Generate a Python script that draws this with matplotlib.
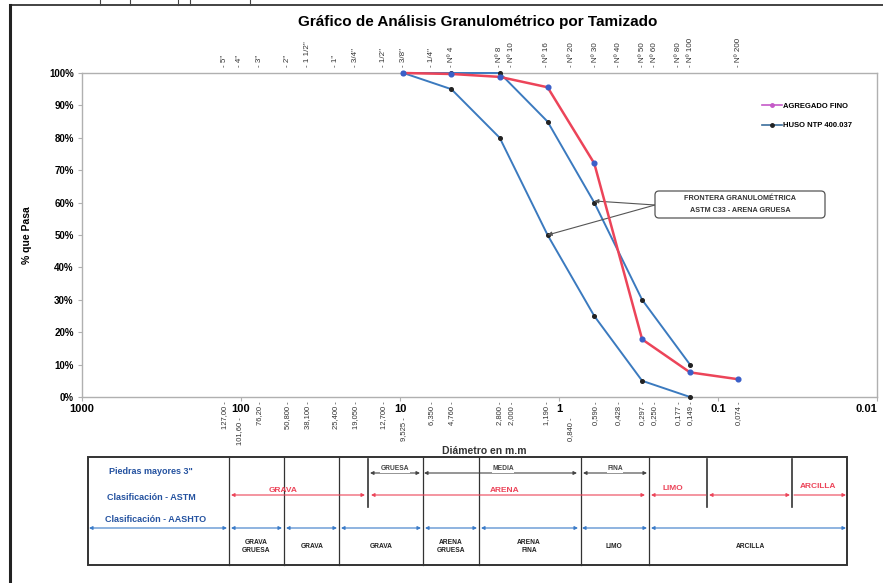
#!/usr/bin/env python3
"""
Grafico de analisis granulometrico por tamizado
Curva del agregado fino frente al huso NTP 400.037
"""

import matplotlib
matplotlib.use("Agg")
import matplotlib.pyplot as plt
from matplotlib import font_manager
from matplotlib.lines import Line2D
from matplotlib.patches import FancyBboxPatch

# ---- datos ----
sieve_mm = [9.525, 4.75, 2.36, 1.18, 0.60, 0.30, 0.15, 0.075]
agregado_fino = [100, 99.7, 98.8, 95.6, 72.1, 17.8, 7.6, 5.5]

huso_mm = [9.525, 4.75, 2.36, 1.18, 0.60, 0.30, 0.15]
huso_sup = [100, 100, 100, 85, 60, 30, 10]
huso_inf = [100, 95, 80, 50, 25, 5, 0]

top_mm = [127, 101.6, 76.2, 50.8, 38.1, 25.4, 19.05, 12.7, 9.525, 6.35, 4.76,
          2.38, 2.0, 1.19, 0.84, 0.59, 0.42, 0.297, 0.25, 0.177, 0.149, 0.074]
top_names = ['5"', '4"', '3"', '2"', '1 1/2"', '1"', '3/4"', '1/2"', '3/8"', '1/4"',
             'Nº 4', 'Nº 8', 'Nº 10', 'Nº 16', 'Nº 20', 'Nº 30', 'Nº 40', 'Nº 50',
             'Nº 60', 'Nº 80', 'Nº 100', 'Nº 200']
bottom_names = ['127,00', '101,60', '76,20', '50,800', '38,100', '25,400', '19,050',
                '12,700', '9,525', '6,350', '4,760', '2,800', '2,000', '1,190', '0,840',
                '0,590', '0,428', '0,297', '0,250', '0,177', '0,149', '0,074']
staggered = ['101,60', '9,525', '0,840']

major_ticks = [1000, 100, 10, 1, 0.1, 0.01]
major_labels = ['1000', '100', '10', '1', '0.1', '0.01']

# ---- fuentes ----
available = {f.name for f in font_manager.fontManager.ttflist}
narrow = 'Liberation Sans Narrow' if 'Liberation Sans Narrow' in available else 'Liberation Sans'
plt.rcParams['font.family'] = [narrow, 'DejaVu Sans']

W, H = 883, 583
fig = plt.figure(figsize=(W / 100, H / 100), dpi=100)


def fx(px):
    return px / W


def fy(py):
    return 1 - py / H


# ---- grafico principal ----
ax = fig.add_axes([fx(82), fy(397), fx(877) - fx(82), fy(73) - fy(397)])
ax.set_xscale('log')
ax.set_xlim(1000, 0.01)
ax.set_ylim(0, 100)

ax.plot(huso_mm, huso_sup, color='#3b7abf', lw=1.4, marker='o', ms=2.6,
        mfc='#222222', mec='#222222', clip_on=False, zorder=3)
ax.plot(huso_mm, huso_inf, color='#3b7abf', lw=1.4, marker='o', ms=2.6,
        mfc='#222222', mec='#222222', clip_on=False, zorder=3)
ax.plot(sieve_mm, agregado_fino, color='#ec4459', lw=1.8, marker='o', ms=3.4,
        mfc='#3a5fc8', mec='#3a5fc8', clip_on=False, zorder=4)

for s in ax.spines.values():
    s.set_color('#b0b0b0')
    s.set_linewidth(1.0)

ax.set_xticks(major_ticks)
ax.set_xticklabels(major_labels, fontsize=8, fontweight='bold')
ax.get_xticklabels()[-1].set_horizontalalignment('right')
ax.xaxis.set_minor_locator(matplotlib.ticker.NullLocator())
ax.tick_params(axis='x', length=3, color='#b0b0b0', pad=2)

ax.set_yticks(range(0, 101, 10))
ax.set_yticklabels([f'{v}%' for v in range(0, 101, 10)], fontsize=7, fontweight='bold')
ax.tick_params(axis='y', length=3, color='#b0b0b0', pad=3)
ax.set_ylabel('% que Pasa', fontsize=7.5, fontweight='bold', labelpad=12)

# nombres de tamices arriba
for mm, name in zip(top_mm, top_names):
    ax.text(mm, 1.02, '- ' + name, transform=ax.get_xaxis_transform(),
            rotation=90, ha='center', va='bottom', fontsize=5.8, color='#333333')

# aberturas en mm abajo
for mm, name in zip(top_mm, bottom_names):
    y = -0.062 if name in staggered else -0.014
    ax.text(mm, y, name + ' -', transform=ax.get_xaxis_transform(),
            rotation=90, ha='center', va='top', fontsize=5.5, color='#333333')

# leyenda
handles = [Line2D([], [], color='#c55ac8', lw=1.2, marker='o', ms=2.5),
           Line2D([], [], color='#3b6e9c', lw=1.2, marker='o', ms=2.5,
                  mfc='#222222', mec='#222222')]
leg = ax.legend(handles, ['AGREGADO FINO', 'HUSO NTP 400.037'],
                loc='upper left', bbox_to_anchor=(fx(755 - 82) / (fx(877) - fx(82)), 0.93),
                frameon=False, handlelength=2.6, handletextpad=0.2,
                labelspacing=1.6, prop={'size': 5.5, 'weight': 'bold'})

# flechas de la frontera granulometrica
for xy in [(0.60, 60.5), (1.18, 50)]:
    ax.annotate('', xy=xy, xycoords='data', xytext=(fx(655), fy(205)),
                textcoords='figure fraction',
                arrowprops=dict(arrowstyle='-|>', color='#555555', lw=0.8,
                                mutation_scale=6, shrinkA=0, shrinkB=0))

fig.text(fx(478), fy(22), 'Gráfico de Análisis Granulométrico por Tamizado',
         ha='center', va='center', fontsize=11, fontweight='bold')
fig.text(fx(484), fy(451), 'Diámetro en m.m', ha='center', va='center',
         fontsize=7.5, fontweight='bold', color='#333333')

# ---- capa en pixeles: recuadro y cuadro de clasificacion ----
ov = fig.add_axes([0, 0, 1, 1], zorder=5)
ov.set_xlim(0, W)
ov.set_ylim(H, 0)
ov.axis('off')

ov.add_patch(FancyBboxPatch((655, 191), 170, 27, boxstyle='round,pad=0,rounding_size=4',
                            fc='white', ec='#555555', lw=0.9))
ov.text(740, 199, 'FRONTERA GRANULOMÉTRICA', ha='center', va='center',
        fontsize=5.2, fontweight='bold', color='#333333')
ov.text(740, 210, 'ASTM C33 - ARENA GRUESA', ha='center', va='center',
        fontsize=5.2, fontweight='bold', color='#333333')

# marco del formato
ov.plot([10, 10], [5, H], color='#222222', lw=2.2)
ov.plot([10, W], [5, 5], color='#222222', lw=1.2)
for x in [100, 130, 178, 190, 250]:
    ov.plot([x, x], [0, 5], color='#444444', lw=0.8)

ov.add_patch(plt.Rectangle((88, 457), 847 - 88, 565 - 457, fill=False,
                           ec='#333333', lw=1.4))
for x in [229, 284, 339, 423, 479, 581, 649]:
    ov.plot([x, x], [457, 565], color='#333333', lw=0.9)
for x in [368, 707, 792]:
    ov.plot([x, x], [459, 507], color='#333333', lw=1.2)


def dim_arrow(x0, x1, y, color, style='<|-|>'):
    ov.annotate('', xy=(x1, y), xytext=(x0, y), xycoords='data',
                arrowprops=dict(arrowstyle=style, color=color, lw=0.8,
                                mutation_scale=5, shrinkA=0, shrinkB=0))


gray = '#444444'
red = '#ec4459'
blue = '#3a7bc8'

# fila 1: subdivisiones
dim_arrow(370, 420, 473, gray)
dim_arrow(424, 577, 473, gray)
dim_arrow(583, 647, 473, gray)
for x, t in [(395, 'GRUESA'), (503, 'MEDIA'), (615, 'FINA')]:
    ov.text(x, 469, t, ha='center', va='center', fontsize=4.8, color=gray,
            fontweight='bold', bbox=dict(fc='white', ec='none', pad=0.3))

# fila 2: ASTM
dim_arrow(231, 365, 495, red)
dim_arrow(371, 645, 495, red)
dim_arrow(651, 706, 495, red, style='<|-')
dim_arrow(709, 790, 495, red)
dim_arrow(794, 846, 495, red, style='-|>')
for x, y, t in [(283, 490, 'GRAVA'), (505, 490, 'ARENA'),
                (673, 488, 'LIMO'), (818, 487, 'ARCILLA')]:
    ov.text(x, y, t, ha='center', va='center', fontsize=6, color=red,
            fontweight='bold')

# fila 3: AASHTO
for x0, x1 in [(89, 227), (231, 282), (286, 337), (341, 421), (425, 477),
               (481, 578), (582, 647), (651, 846)]:
    dim_arrow(x0, x1, 528, blue)

# fila 4: nombres AASHTO
for x, t in [(256, 'GRAVA\nGRUESA'), (312, 'GRAVA'), (381, 'GRAVA'),
             (451, 'ARENA\nGRUESA'), (529, 'ARENA\nFINA'), (614, 'LIMO'),
             (750, 'ARCILLA')]:
    ov.text(x, 546, t, ha='center', va='center', fontsize=4.8, color='#222222',
            fontweight='bold', linespacing=1.2)

# titulos de filas
for x, y, t in [(109, 472, 'Piedras mayores 3"'), (107, 497, 'Clasificación - ASTM'),
                (105, 519, 'Clasificación - AASHTO')]:
    ov.text(x, y, t, ha='left', va='center', fontsize=6.5, color='#2452a0',
            fontweight='bold')

fig.savefig('out.png', dpi=100)
